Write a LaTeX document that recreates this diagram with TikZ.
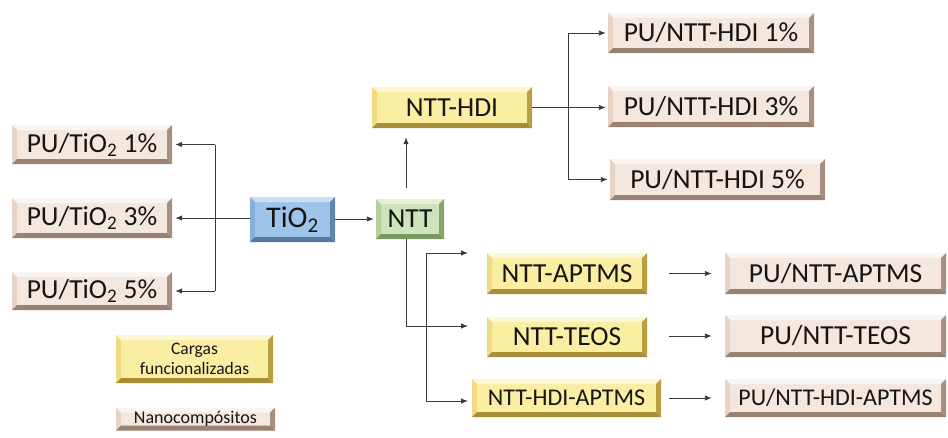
\documentclass[tikz,border=0pt]{standalone}
\usepackage{fontspec}
\setmainfont{Carlito}
\usetikzlibrary{arrows.meta}
\definecolor{txt}{HTML}{151515}
\definecolor{lne}{HTML}{3A3A3A}
% beige
\definecolor{bgF}{HTML}{F4E7DE}\definecolor{bgT}{HTML}{FBF5F1}\definecolor{bgL}{HTML}{E6D3C6}
\definecolor{bgR}{HTML}{A98F80}\definecolor{bgB}{HTML}{9A8172}
% yellow
\definecolor{yeF}{HTML}{FAEEA3}\definecolor{yeT}{HTML}{FDF7D2}\definecolor{yeL}{HTML}{EFDB82}
\definecolor{yeR}{HTML}{B99F42}\definecolor{yeB}{HTML}{A78E37}
% blue
\definecolor{blF}{HTML}{9EC5E9}\definecolor{blT}{HTML}{C8DFF4}\definecolor{blL}{HTML}{86B0DA}
\definecolor{blR}{HTML}{5E86AE}\definecolor{blB}{HTML}{56799D}
% green
\definecolor{grF}{HTML}{CDE3BB}\definecolor{grT}{HTML}{E4F0DA}\definecolor{grL}{HTML}{B5D19E}
\definecolor{grR}{HTML}{87A66D}\definecolor{grB}{HTML}{7A9862}
\def\bw{5pt}
\tikzset{
  bevel/.style n args={5}{fill=#1, draw=none, inner sep=0pt, text=txt,
    path picture={
      \fill[#2] (path picture bounding box.north west) -- (path picture bounding box.north east)
        -- ([shift={(-\bw,-\bw)}]path picture bounding box.north east)
        -- ([shift={(\bw,-\bw)}]path picture bounding box.north west) -- cycle;
      \fill[#3] (path picture bounding box.north west) -- ([shift={(\bw,-\bw)}]path picture bounding box.north west)
        -- ([shift={(\bw,\bw)}]path picture bounding box.south west) -- (path picture bounding box.south west) -- cycle;
      \fill[#4] (path picture bounding box.north east) -- (path picture bounding box.south east)
        -- ([shift={(-\bw,\bw)}]path picture bounding box.south east)
        -- ([shift={(-\bw,-\bw)}]path picture bounding box.north east) -- cycle;
      \fill[#5] (path picture bounding box.south west) -- ([shift={(\bw,\bw)}]path picture bounding box.south west)
        -- ([shift={(-\bw,\bw)}]path picture bounding box.south east) -- (path picture bounding box.south east) -- cycle;
    }},
  beige/.style={bevel={bgF}{bgT}{bgL}{bgR}{bgB}},
  yellow/.style={bevel={yeF}{yeT}{yeL}{yeR}{yeB}},
  blue/.style={bevel={blF}{blT}{blL}{blR}{blB}},
  green/.style={bevel={grF}{grT}{grL}{grR}{grB}},
  big/.style={font=\fontsize{27.5}{30}\selectfont},
  mid/.style={font=\fontsize{24}{26}\selectfont},
  small/.style={font=\fontsize{17.5}{20}\selectfont, align=center},
  arr/.style={draw=lne, line width=0.9pt, -{Latex[length=7pt,width=5.5pt]}},
  ln/.style={draw=lne, line width=0.9pt},
}
\begin{document}
\begin{tikzpicture}[x=1pt,y=-1pt]
\useasboundingbox (0,0) rectangle (948,437);
\fill[white] (0,0) rectangle (948,437);
% left group
\node[beige,big,minimum width=160pt,minimum height=39pt] (t1) at (92,144.5) {PU/TiO\textsubscript{2} 1\%};
\node[beige,big,minimum width=160pt,minimum height=40pt] (t3) at (92,218) {PU/TiO\textsubscript{2} 3\%};
\node[beige,big,minimum width=160pt,minimum height=38pt] (t5) at (92,291) {PU/TiO\textsubscript{2} 5\%};
\node[blue,font=\fontsize{30}{32}\selectfont,minimum width=85pt,minimum height=45pt] (tio2) at (292.5,219.5) {TiO\textsubscript{2}};
\node[green,big,minimum width=68pt,minimum height=40pt] (ntt) at (410,219) {NTT};
% top group
\node[yellow,big,minimum width=160pt,minimum height=41pt] (hdi) at (452,107.5) {NTT-HDI};
\node[beige,big,minimum width=206pt,minimum height=40pt] (h1) at (711,33) {PU/NTT-HDI 1\%};
\node[beige,big,minimum width=206pt,minimum height=41pt] (h3) at (711,106.5) {PU/NTT-HDI 3\%};
\node[beige,big,minimum width=215pt,minimum height=41pt] (h5) at (717.5,179.5) {PU/NTT-HDI 5\%};
% bottom group
\node[yellow,big,minimum width=160pt,minimum height=41pt] (ap) at (567,273.5) {NTT-APTMS};
\node[yellow,big,minimum width=160pt,minimum height=40pt] (te) at (567,337) {NTT-TEOS};
\node[yellow,mid,minimum width=189pt,minimum height=38pt] (ha) at (566.5,398) {NTT-HDI-APTMS};
\node[beige,big,minimum width=221pt,minimum height=41pt] (pap) at (835.5,273.5) {PU/NTT-APTMS};
\node[beige,big,minimum width=221pt,minimum height=42pt] (pte) at (835.5,336) {PU/NTT-TEOS};
\node[beige,mid,minimum width=221pt,minimum height=38pt] (pha) at (835.5,398) {PU/NTT-HDI-APTMS};
% legend
\node[yellow,small,minimum width=157pt,minimum height=48pt] (lg1) at (194.5,359) {Cargas\\funcionalizadas};
\node[beige,font=\fontsize{18}{20}\selectfont,minimum width=159pt,minimum height=23pt] (lg2) at (195.5,419) {Nanocompósitos};
% connectors left
\coordinate (lx) at (215,0);
\draw[arr,shorten >=3pt] (tio2.west |- t3.east) -- (t3.east);
\draw[ln] (t1.east -| lx) -- (t5.east -| lx);
\draw[arr,shorten >=3pt] (t1.east -| lx) -- (t1.east);
\draw[arr,shorten >=3pt] (t5.east -| lx) -- (t5.east);
\draw[arr,shorten >=2pt] (tio2.east |- ntt.west) -- (ntt.west);
% up to NTT-HDI
\coordinate (ux) at (406,0);
\draw[arr,shorten <=11pt,shorten >=9pt] (ntt.north -| ux) -- (hdi.south -| ux);
% NTT-HDI branches
\coordinate (hx) at (568,0);
\draw[arr,shorten >=2pt] (hdi.east) -- (hdi.east -| h3.west);
\draw[ln] (h1.west -| hx) -- (h5.west -| hx);
\draw[arr,shorten >=2pt] (h1.west -| hx) -- (h1.west);
\draw[arr,shorten >=2pt] (h5.west -| hx) -- (h5.west);
% NTT down branches
\coordinate (e1) at (468,253);
\coordinate (e2) at (468,326);
\coordinate (e3) at (468,401);
\coordinate (b1) at (426,253);
\coordinate (b3) at (426,401);
\draw[arr] (ntt.south -| ux) |- (e2);
\draw[ln] (b1) -- (b3);
\draw[arr] (b1) -- (e1);
\draw[arr] (b3) -- (e3);
% to nanocomposites
\draw[arr,shorten <=22pt,shorten >=13pt] (ap.east) -- (pap.west);
\draw[arr,shorten <=22pt,shorten >=13pt] (te.east |- pte.west) -- (pte.west);
\draw[arr,shorten <=8pt,shorten >=13pt] (ha.east) -- (ha.east -| pha.west);
\end{tikzpicture}
\end{document}
